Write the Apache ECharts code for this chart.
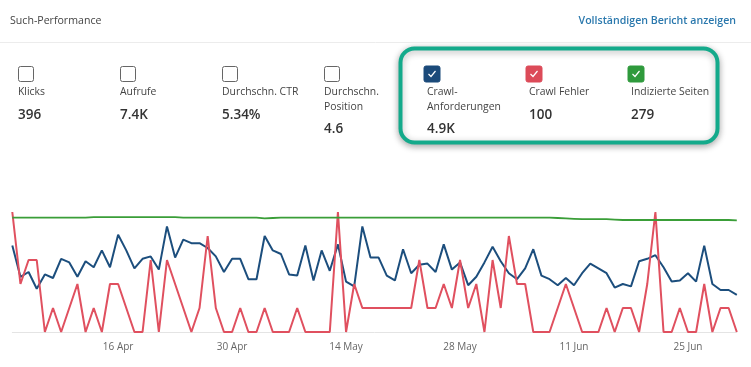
<!DOCTYPE html>
<html>
<head>
<meta charset="utf-8">
<style>
html,body{margin:0;padding:0;background:#fff;}
#chart{width:751px;height:367px;}
</style>
<script src="https://cdn.jsdelivr.net/npm/echarts@6/dist/echarts.min.js"></script>
</head>
<body>
<div id="chart"></div>
<script>
// ---------- data ----------
var categories = [
  "3 Apr","4 Apr","5 Apr","6 Apr","7 Apr","8 Apr","9 Apr","10 Apr","11 Apr","12 Apr","13 Apr","14 Apr","15 Apr","16 Apr",
  "17 Apr","18 Apr","19 Apr","20 Apr","21 Apr","22 Apr","23 Apr","24 Apr","25 Apr","26 Apr","27 Apr","28 Apr","29 Apr","30 Apr",
  "1 May","2 May","3 May","4 May","5 May","6 May","7 May","8 May","9 May","10 May","11 May","12 May","13 May","14 May",
  "15 May","16 May","17 May","18 May","19 May","20 May","21 May","22 May","23 May","24 May","25 May","26 May","27 May","28 May",
  "29 May","30 May","31 May","1 Jun","2 Jun","3 Jun","4 Jun","5 Jun","6 Jun","7 Jun","8 Jun","9 Jun","10 Jun","11 Jun",
  "12 Jun","13 Jun","14 Jun","15 Jun","16 Jun","17 Jun","18 Jun","19 Jun","20 Jun","21 Jun","22 Jun","23 Jun","24 Jun","25 Jun",
  "26 Jun","27 Jun","28 Jun","29 Jun","30 Jun","1 Jul"
];
var tickLabels = ["16 Apr","30 Apr","14 May","28 May","11 Jun","25 Jun"];

var crawlRequests = [
  72,46,50,36,48,45,61,58,46,59, 54,68,54,81,68,53,61,63,52,88,
  62,77,74,74,70,63,50,61,61,44, 44,80,68,65,48,47,72,43,68,51,
  73,42,38,88,62,62,47,43,69,49, 56,57,50,73,52,58,39,46,58,71,
  59,49,44,53,69,47,44,39,45,39, 49,57,53,49,37,40,38,59,61,64,
  54,42,43,49,42,72,40,35,35,31
];
var crawlErrors = [
  5,2,3,3,0,1,0,1,2,0, 1,0,2,2,1,0,0,3,0,3,
  2,1,0,1,4,1,0,0,1,0, 0,1,0,0,0,1,0,0,0,0,
  5,0,2,1,1,1,1,1,1,1, 3,1,1,2,1,3,1,2,0,3,
  1,4,2,2,0,0,0,1,2,1, 0,0,0,1,0,1,1,0,2,5,
  0,0,1,0,0,2,0,1,1,0
];
var indexedPages = [
  286,286,286,286,286,286,286,286,286,286, 287,287,287,287,287,287,287,287,287,287,
  287,286,286,286,286,286,286,286,286,286, 286,284,285,286,286,286,286,286,286,286,
  286,286,286,286,286,286,286,286,286,286, 286,286,286,286,286,286,286,286,286,286,
  286,286,286,286,286,286,286,285,284,283, 282,282,282,282,281,280,280,280,280,280,
  280,280,280,280,280,280,280,280,280,279
];

var kpiLabels = [["Klicks"],["Aufrufe"],["Durchschn. CTR"],["Durchschn.","Position"],["Crawl-","Anforderungen"],["Crawl Fehler"],["Indizierte Seiten"]];
var kpiValues = ["396","7.4K","5.34%","4.6","4.9K","100","279"];
var kpiChecked = [false,false,false,false,true,true,true];
var kpiColors = [null,null,null,null,"#1b4a7a","#dc4b59","#2f9a3c"];
var seriesNames = ["Crawl-Anforderungen","Crawl Fehler","Indizierte Seiten"];
var seriesColors = ["#1c4e7d","#e0505f","#3a9e38"];

// ---------- graphics ----------
var FONT = '"Open Sans", "Noto Sans", sans-serif';
var graphics = [];
graphics.push({type:'text', left:10, top:15, style:{text:'Such-Performance', font:'10.6px '+FONT, fill:'#444'}});
graphics.push({type:'text', right:15, top:15, style:{text:'Vollständigen Bericht anzeigen', font:'600 10.6px '+FONT, fill:'#2a78ad'}});
graphics.push({type:'line', shape:{x1:0,y1:42.5,x2:751,y2:42.5}, style:{stroke:'#ececec', lineWidth:1}});
graphics.push({type:'rect', shape:{x:400.5,y:48.5,width:317,height:94,r:14},
  style:{fill:'#fff', stroke:'#14aa8b', lineWidth:4, shadowBlur:7, shadowColor:'rgba(0,0,0,0.3)', shadowOffsetY:2}, z:-1});

var colX = [18,120,222,324,427,529,631];
for (var k=0;k<kpiLabels.length;k++){
  var x = colX[k];
  var bx = kpiChecked[k] ? x-3 : x;
  if (kpiChecked[k]) {
    graphics.push({type:'rect', shape:{x:bx,y:66,width:16,height:16,r:2}, style:{fill:kpiColors[k], stroke:kpiColors[k], lineWidth:1}});
    graphics.push({type:'polyline', shape:{points:[[bx+4.5,74],[bx+7,76.5],[bx+11.5,71]]}, style:{stroke:'#fff', lineWidth:1.2, fill:null}});
  } else {
    graphics.push({type:'rect', shape:{x:bx+0.5,y:66.5,width:15,height:15,r:2}, style:{fill:'#fff', stroke:'#666', lineWidth:1}});
  }
  var lines = kpiLabels[k];
  for (var j=0;j<lines.length;j++){
    graphics.push({type:'text', left:x, top:87.5+j*15, style:{text:lines[j], font:'10.4px '+FONT, fill:'#444'}});
  }
  graphics.push({type:'text', left:x, top:(lines.length>1?122:108), style:{text:kpiValues[k], font:'600 13.5px '+FONT, fill:'#333'}});
}

// ---------- chart ----------
var chart = echarts.init(document.getElementById('chart'), null, {renderer:'canvas'});
chart.setOption({
  animation:false,
  backgroundColor:'#fff',
  graphic: graphics,
  grid:{left:12.3, right:14.2, top:212, bottom:35, containLabel:false},
  xAxis:{
    type:'category', data:categories, boundaryGap:false,
    axisLine:{show:true, lineStyle:{color:'#e4e4e4', width:1}},
    axisTick:{show:false},
    axisLabel:{
      margin:10, color:'#666', fontSize:10, fontFamily:FONT,
      interval:function(idx, val){ return tickLabels.indexOf(val) >= 0; }
    },
    splitLine:{show:false}
  },
  yAxis:[
    {type:'value', min:0, max:100, show:false, splitLine:{show:false}},
    {type:'value', min:0, max:5, show:false, splitLine:{show:false}},
    {type:'value', min:0, max:300, show:false, splitLine:{show:false}}
  ],
  series:[
    {name:seriesNames[0], type:'line', yAxisIndex:0, data:crawlRequests, symbol:'none',
     lineStyle:{color:seriesColors[0], width:2}, itemStyle:{color:seriesColors[0]}},
    {name:seriesNames[1], type:'line', yAxisIndex:1, data:crawlErrors, symbol:'none',
     lineStyle:{color:seriesColors[1], width:2}, itemStyle:{color:seriesColors[1]}},
    {name:seriesNames[2], type:'line', yAxisIndex:2, data:indexedPages, symbol:'none',
     lineStyle:{color:seriesColors[2], width:1.8}, itemStyle:{color:seriesColors[2]}}
  ]
});
</script>
</body>
</html>
